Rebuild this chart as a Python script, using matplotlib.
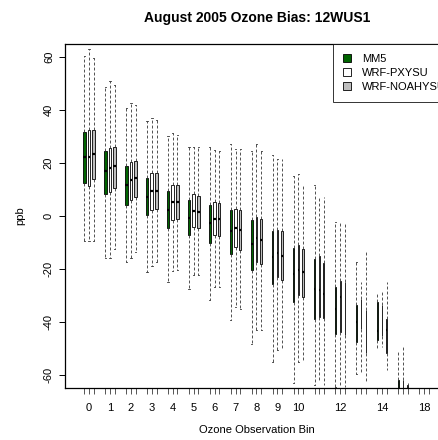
import matplotlib
matplotlib.use("Agg")
import matplotlib.pyplot as plt
from matplotlib.patches import Patch

plt.rcParams['font.family'] = ['Liberation Sans', 'DejaVu Sans']

title = "August 2005 Ozone Bias: 12WUS1"
xlabel = "Ozone Observation Bin"
ylabel = "ppb"
models = ["MM5", "WRF-PXYSU", "WRF-NOAHYSU"]
bin_labels = ['0', '1', '2', '3', '4', '5', '6', '7', '8', '9', '10', '', '12', '', '14', '', '18']
yticks = [-60, -40, -20, 0, 20, 40, 60]

# per model, per bin: [whisker_low, q1, median, q3, whisker_high]
mm5 = [
    [-9.5, 12.3, 22.4, 31.5, 60.4],
    [-15.7, 8.4, 16.9, 24.4, 48.5],
    [-17.4, 4.3, 11.7, 18.9, 40.7],
    [-21.1, 0.2, 7.3, 14.4, 35.7],
    [-24.9, -4.4, 2.4, 9.6, 30.3],
    [-27.4, -7.3, -0.7, 6.1, 26.1],
    [-31.8, -10.2, -2.7, 4.3, 26.1],
    [-39.3, -14.5, -5.8, 2.3, 27.2],
    [-48.1, -20.5, -10.5, -1.4, 24.6],
    [-55.0, -25.5, -15.5, -5.5, 22.8],
    [-63.0, -32.4, -22.0, -12.0, 15.2],
    [-63.8, -38.7, -27.4, -16.1, 11.5],
    [-64.5, -44.3, -34.9, -26.8, -2.3],
    [-59.4, -47.5, -40.0, -33.7, -17.4],
    [-50.0, -46.8, -43.3, -32.4, -29.3],
    [-80.0, -75.0, -70.0, -61.6, -50.6],
    [-90.0, -85.0, -80.0, -75.0, -70.0],
]
pxysu = [
    [-9.5, 11.2, 22.3, 32.4, 62.9],
    [-15.7, 9.0, 18.0, 25.7, 50.7],
    [-15.7, 6.1, 13.5, 20.4, 42.4],
    [-19.0, 2.3, 9.6, 16.3, 36.9],
    [-20.8, -1.4, 5.2, 11.7, 31.2],
    [-22.4, -4.2, 1.8, 8.1, 26.1],
    [-26.8, -7.3, -1.1, 5.2, 24.9],
    [-34.3, -11.7, -4.4, 2.7, 25.3],
    [-43.1, -17.4, -8.4, -0.2, 27.3],
    [-50.6, -23.0, -14.0, -5.2, 21.6],
    [-55.0, -29.9, -20.5, -11.1, 16.0],
    [-62.6, -38.1, -28.0, -15.2, 7.0],
    [-64.5, -43.7, -30.5, -24.3, -2.7],
    [-58.8, -42.4, -38.3, -31.2, -24.9],
    [-49.4, -45.2, -37.8, -33.7, -27.8],
    [-80.0, -75.0, -70.0, -61.6, -48.7],
    [-90.0, -85.0, -80.0, -75.0, -70.0],
]
noahysu = [
    [-9.5, 14.0, 23.4, 32.4, 59.7],
    [-12.3, 10.6, 18.9, 26.1, 49.5],
    [-13.6, 7.1, 14.2, 20.9, 41.8],
    [-17.4, 2.7, 9.6, 16.3, 36.3],
    [-20.2, -1.1, 5.2, 11.5, 30.5],
    [-22.4, -4.4, 1.6, 7.7, 25.9],
    [-26.8, -7.7, -1.3, 4.8, 24.4],
    [-34.9, -12.7, -5.1, 2.3, 25.3],
    [-43.1, -18.0, -9.2, -1.1, 24.3],
    [-50.6, -24.0, -14.9, -5.7, 21.6],
    [-55.0, -30.5, -21.1, -12.3, 12.2],
    [-63.8, -38.3, -29.3, -17.8, 7.0],
    [-64.5, -45.0, -33.0, -24.9, -2.7],
    [-63.0, -51.8, -41.8, -35.6, -13.6],
    [-58.1, -51.8, -43.1, -38.7, -24.9],
    [-85.0, -80.0, -75.0, -63.5, -63.0],
    [-90.0, -85.0, -80.0, -75.0, -70.0],
]
series = [mm5, pxysu, noahysu]
fills = ['#006400', '#FFFFFF', '#BEBEBE']

# relative box widths (R varwidth, proportional to sqrt(n))
rel_width = [1.0, 1.0, 1.0, 1.0, 0.95, 0.92, 0.85, 0.78, 0.68, 0.55, 0.42, 0.35, 0.26, 0.23, 0.21, 0.19, 0.16]

fig = plt.figure(figsize=(4.38, 4.40), dpi=100)
ax = fig.add_axes([65 / 438, 1 - 388 / 440, (449 - 65) / 438, (388 - 44) / 440])

offsets = [-0.225, 0.0, 0.225]
max_w = 0.13
for k, (data, fc) in enumerate(zip(series, fills)):
    stats = []
    pos = []
    widths = []
    for i, (lo, q1, med, q3, hi) in enumerate(data):
        stats.append(dict(whislo=lo, q1=q1, med=med, q3=q3, whishi=hi, fliers=[]))
        pos.append(i + offsets[k])
        widths.append(max_w * rel_width[i])
    ax.bxp(stats, positions=pos, widths=widths, capwidths=[w * 0.5 for w in widths],
           patch_artist=True, showfliers=False, manage_ticks=False,
           boxprops=dict(facecolor=fc, edgecolor='black', linewidth=0.6),
           whiskerprops=dict(color='#333333', linewidth=0.6, linestyle=(0, (3.5, 2.5))),
           capprops=dict(color='#333333', linewidth=0.6),
           medianprops=dict(color='black', linewidth=1.6, solid_capstyle='butt'))

n = len(bin_labels)
tick_pos = []
tick_lab = []
for i in range(n):
    for k in range(3):
        tick_pos.append(i + offsets[k])
        tick_lab.append(bin_labels[i] if k == 1 else '')
ax.set_xticks(tick_pos)
ax.set_xticklabels(tick_lab)
ax.set_xlim(-1.15, 17.2)
ax.set_ylim(-64.8, 64.8)
ax.set_yticks(yticks)
ax.set_yticklabels([str(v) for v in yticks], rotation=90, va='center')
ax.tick_params(axis='both', direction='out', length=4, width=0.7, labelsize=8)
ax.tick_params(axis='y', pad=4)
ax.tick_params(axis='x', pad=7, color='#555555')
for s in ax.spines.values():
    s.set_linewidth(0.9)

fig.text(257 / 438, 1 - 18 / 440, title, ha='center', va='center', fontsize=10, fontweight='bold')
fig.text(257 / 438, 1 - 430 / 440, xlabel, ha='center', va='center', fontsize=8)
fig.text(20 / 438, 1 - 216 / 440, ylabel, ha='center', va='center', rotation=90, fontsize=8)

handles = [Patch(facecolor=fc, edgecolor='black', linewidth=0.6) for fc in fills]
leg = ax.legend(handles, models, loc='upper left', bbox_to_anchor=(333 / 438, 1 - 44 / 440),
                bbox_transform=fig.transFigure, fontsize=8, frameon=True, fancybox=False,
                handlelength=0.7, handleheight=0.7, handletextpad=1.0, borderpad=0.9,
                labelspacing=0.35, borderaxespad=0)
leg.get_frame().set_edgecolor('black')
leg.get_frame().set_linewidth(0.7)

fig.savefig("out.png", dpi=100)
